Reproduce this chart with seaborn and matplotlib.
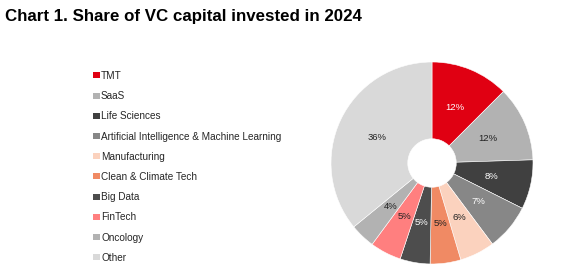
import matplotlib
matplotlib.use("Agg")
import matplotlib.pyplot as plt
import seaborn as sns
from matplotlib.patches import Patch

sectors = ["TMT", "SaaS", "Life Sciences", "Artificial Intelligence & Machine Learning",
           "Manufacturing", "Clean & Climate Tech", "Big Data", "FinTech", "Oncology", "Other"]
shares = [12.5, 12.0, 7.9, 7.4, 5.6, 4.9, 4.8, 5.0, 4.0, 35.9]
pct_labels = ["12%", "12%", "8%", "7%", "6%", "5%", "5%", "5%", "4%", "36%"]
colors = ["#E00012", "#B2B2B2", "#404040", "#878787", "#FBD2BE",
          "#F08A64", "#4D4D4D", "#FF7F7F", "#B2B2B2", "#D9D9D9"]
label_colors = ["white", "#222222", "white", "white", "#222222",
                "#222222", "white", "#222222", "#222222", "#222222"]

sns.set_theme(style="white")
plt.rcParams["font.family"] = ["Liberation Sans", "DejaVu Sans"]

fig = plt.figure(figsize=(5.85, 2.73), dpi=100)
fig.patch.set_facecolor("white")

fig.text(5 / 585, 1 - 17 / 273, "Chart 1. Share of VC capital invested in 2024",
         fontsize=12.2, fontweight="bold", color="black", ha="left", va="center")

R = 101
cx, cy = 432, 163
ax = fig.add_axes([(cx - R) / 585, (273 - cy - R) / 273, 2 * R / 585, 2 * R / 273])
wedges, texts = ax.pie(shares, colors=colors, startangle=90, counterclock=False,
                       labels=pct_labels, labeldistance=0.6,
                       wedgeprops=dict(width=0.76, edgecolor="white", linewidth=0.4),
                       textprops=dict(fontsize=6.8))
for t, c in zip(texts, label_colors):
    t.set_color(c)
    t.set_ha("center")
    t.set_va("center")
ax.set_xlim(-1, 1)
ax.set_ylim(-1, 1)
ax.set_aspect("equal")

handles = [Patch(facecolor=c, edgecolor="none") for c in colors]
fig.legend(handles, sectors, loc="upper left", bbox_to_anchor=(93 / 585, 1 - 71 / 273),
           frameon=False, fontsize=7.2, handlelength=0.7, handleheight=0.55,
           handletextpad=0.1, labelspacing=1.02, borderpad=0, borderaxespad=0)

fig.savefig("out.png", dpi=100, facecolor="white")
